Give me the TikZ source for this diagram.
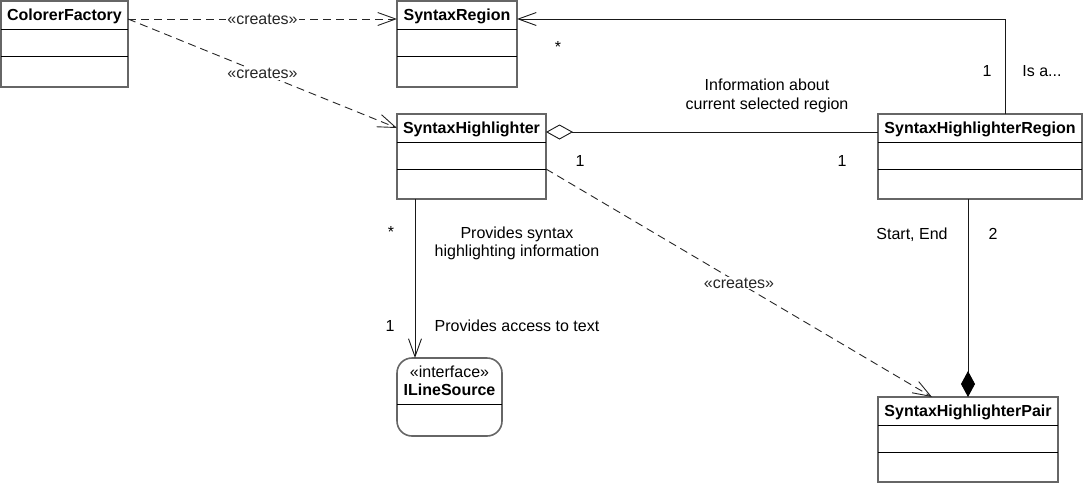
\documentclass[tikz,border=0pt]{standalone}
\usepackage{fontspec}
\setmainfont{Liberation Sans}
\usetikzlibrary{arrows.meta}
\begin{document}
\begin{tikzpicture}[x=1pt,y=-1pt,font=\fontsize{16}{18.5}\selectfont,classbox/.style={draw=black!60,line width=1.6pt,anchor=north west,inner sep=0pt,outer sep=0pt},classname/.style={font=\fontsize{16}{18.5}\selectfont\bfseries,anchor=base,inner sep=0pt},compart/.style={black,line width=0.9pt},assoc/.style={black!90,line width=0.9pt},creates/.style={black!85,line width=0.9pt,dash pattern=on 8pt off 5pt,-{Straight Barb[length=18pt,width=13pt]}},lbl/.style={inner sep=0pt,anchor=base},stereo/.style={fill=white,inner sep=1pt}]
\def\hdr{28}
\def\opr{55}
\useasboundingbox (0,0) rectangle (1083,483);

\node[classbox,minimum width=127pt,minimum height=86pt] (cf) at (1,1) {};
\node[classname] (cfN) at ([yshift=-19pt]cf.north) {ColorerFactory};
\draw[compart] ([yshift=-\hdr pt]cf.north west) -- ([yshift=-\hdr pt]cf.north east);
\draw[compart] ([yshift=-\opr pt]cf.north west) -- ([yshift=-\opr pt]cf.north east);

\node[classbox,minimum width=120pt,minimum height=86pt] (sr) at (397,1) {};
\node[classname] (srN) at ([yshift=-19pt]sr.north) {SyntaxRegion};
\draw[compart] ([yshift=-\hdr pt]sr.north west) -- ([yshift=-\hdr pt]sr.north east);
\draw[compart] ([yshift=-\opr pt]sr.north west) -- ([yshift=-\opr pt]sr.north east);

\node[classbox,minimum width=149pt,minimum height=85pt] (sh) at (397,114) {};
\node[classname] (shN) at ([yshift=-19pt]sh.north) {SyntaxHighlighter};
\draw[compart] ([yshift=-\hdr pt]sh.north west) -- ([yshift=-\hdr pt]sh.north east);
\draw[compart] ([yshift=-\opr pt]sh.north west) -- ([yshift=-\opr pt]sh.north east);

\node[classbox,minimum width=204pt,minimum height=85pt] (shr) at (878,114) {};
\node[classname] (shrN) at ([yshift=-19pt]shr.north) {SyntaxHighlighterRegion};
\draw[compart] ([yshift=-\hdr pt]shr.north west) -- ([yshift=-\hdr pt]shr.north east);
\draw[compart] ([yshift=-\opr pt]shr.north west) -- ([yshift=-\opr pt]shr.north east);

\node[classbox,minimum width=180pt,minimum height=85pt] (shp) at (878,397) {};
\node[classname] (shpN) at ([yshift=-19pt]shp.north) {SyntaxHighlighterPair};
\draw[compart] ([yshift=-\hdr pt]shp.north west) -- ([yshift=-\hdr pt]shp.north east);
\draw[compart] ([yshift=-\opr pt]shp.north west) -- ([yshift=-\opr pt]shp.north east);

\node[classbox,rounded corners=15pt,minimum width=105pt,minimum height=78pt] (ils) at (397,358) {};
\node[align=center,inner sep=0pt] (ilsN) at ([yshift=-23pt]ils.north) {«interface»\\\textbf{ILineSource}};
\draw[compart] ([yshift=-46pt]ils.north west) -- ([yshift=-46pt]ils.north east);

\draw[creates] ([yshift=-18pt]cf.north east) -- node[stereo] (cr1) {«creates»} ([yshift=-18pt]sr.north west);
\draw[creates] ([yshift=-18pt]cf.north east) -- node[stereo] (cr2) {«creates»} ([yshift=-14pt]sh.north west);
\draw[creates] ([yshift=-\opr pt]sh.north east) -- node[stereo] (cr3) {«creates»} ([xshift=54pt]shp.north west);
\draw[assoc,-{Straight Barb[length=18pt,width=13pt]}] ([xshift=127pt]shr.north west) |- ([yshift=-18pt]sr.north east);
\draw[assoc,{Diamond[open,length=27pt,width=15pt]}-] ([yshift=-18pt]sh.north east) -- ([yshift=-18pt]shr.north west);
\draw[assoc,-{Straight Barb[length=18pt,width=13pt]}] ([xshift=18pt]sh.south west) -- ([xshift=18pt]ils.north west);
\draw[assoc,-{Diamond[length=26pt,width=14pt,fill=black,color=black]}] ([xshift=90pt]shr.south west) -- ([xshift=90pt]shp.north west);

\node[lbl] (mSR) at (558,52) {*};
\node[lbl] (mSHRa) at (987,76) {1};
\node[lbl] (isa) at (1042,76) {Is a...};
\node[align=center,inner sep=0pt] (info) at (767,96) {Information about\\current selected region};
\node[lbl] (mSHb) at (580,166) {1};
\node[lbl] (mSHRb) at (842,166) {1};
\node[lbl] (mSHc) at (391,237) {*};
\node[align=center,inner sep=0pt] (prov) at (517,243.5) {Provides syntax\\highlighting information};
\node[lbl] (mILS) at (390,331) {1};
\node[lbl] (acc) at (517,331) {Provides access to text};
\node[lbl] (se) at (912,239) {Start, End};
\node[lbl] (mSHP) at (993,239) {2};
\end{tikzpicture}
\end{document}
